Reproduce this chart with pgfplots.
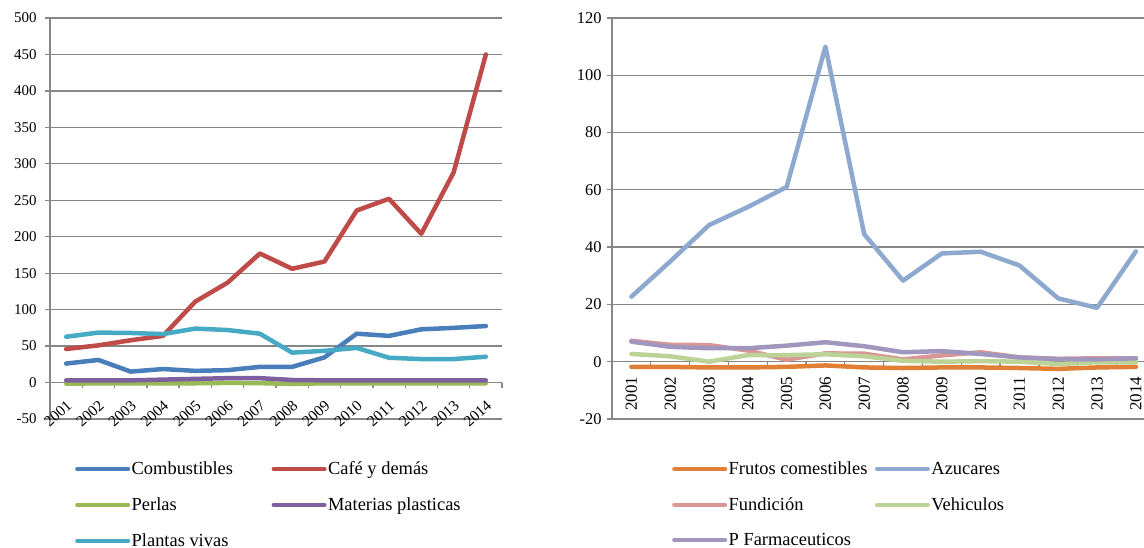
\documentclass[border=0pt]{standalone}
\usepackage{fontspec}
\setmainfont{Liberation Serif}
\usepackage{pgfplots}
\pgfplotsset{compat=1.18}
\definecolor{gridgray}{HTML}{878787}
\definecolor{cComb}{HTML}{4A7EBB}
\definecolor{cCafe}{HTML}{BE4B48}
\definecolor{cPerl}{HTML}{98B954}
\definecolor{cMat}{HTML}{7D60A0}
\definecolor{cPlan}{HTML}{46AAC5}
\definecolor{cFrut}{HTML}{E07F35}
\definecolor{cAzu}{HTML}{8EA9D0}
\definecolor{cFun}{HTML}{D99694}
\definecolor{cVeh}{HTML}{BCD397}
\definecolor{cFar}{HTML}{A196BE}
\pgfplotsset{
  common/.style={
    scale only axis,
    anchor=south west,
    axis x line*=middle,
    axis y line*=left,
    axis line style={draw=gridgray, line width=1.3bp},
    ymajorgrids,
    grid style={draw=gridgray, line width=1.3bp},
    tick align=outside,
    major tick length=5bp,
    ytick style={draw=gridgray, line width=1.3bp},
    xtick style={draw=none},
    tick label style={text=black},
    xtick={2001,...,2014},
    xticklabels={2001,2002,2003,2004,2005,2006,2007,2008,2009,2010,2011,2012,2013,2014},
    extra x ticks={2000.5,2001.5,2002.5,2003.5,2004.5,2005.5,2006.5,2007.5,2008.5,2009.5,2010.5,2011.5,2012.5,2013.5,2014.5},
    extra x tick labels={},
    extra x tick style={xtick style={draw=gridgray, line width=1.3bp}},
    every axis plot/.append style={line width=4.5bp, line join=round, line cap=round},
    legend columns=2,
    legend image code/.code={\draw[##1, line width=4bp, line cap=round] (2bp,0bp) -- (53bp,0bp);},
    legend cell align=left,
  },
}
\begin{document}
\begin{tikzpicture}[x=1bp,y=1bp]
\path[use as bounding box] (0,0) rectangle (1144,548);
\begin{axis}[common,
  at={(50bp,129bp)}, width=452bp, height=401bp,
  xmin=2000.5, xmax=2014.5, ymin=-50, ymax=500,
  ytick={-50,0,50,100,150,200,250,300,350,400,450,500},
  yticklabels={-50,0,50,100,150,200,250,300,350,400,450,500},
  y tick label style={font=\fontsize{15}{18}\selectfont, xshift=-5bp},
  x tick label style={font=\fontsize{15.5}{18}\selectfont, xshift=4bp, yshift=-15bp, rotate=42, anchor=east, inner sep=1bp},
  legend style={at={(0.0553,-0.1065)}, anchor=north west, draw=none, fill=none,
    inner sep=0pt, font=\fontsize{18.5}{22}\selectfont, row sep=21.5bp,
    nodes={inner xsep=1.5bp, inner ysep=0pt},
    /tikz/every even column/.append style={column sep=37bp}},
]
\addplot[cComb] coordinates {(2001,26) (2002,31) (2003,15) (2004,18.5) (2005,16) (2006,17) (2007,21.5) (2008,21.5) (2009,34.5) (2010,67) (2011,64) (2012,73) (2013,75) (2014,77.5)};
\addlegendentry{Combustibles}
\addplot[cCafe] coordinates {(2001,46) (2002,51) (2003,58) (2004,64) (2005,111) (2006,137) (2007,177) (2008,156) (2009,166) (2010,236) (2011,252) (2012,204) (2013,288) (2014,450)};
\addlegendentry{Café y demás}
\addplot[cPerl] coordinates {(2001,-1.5) (2002,-1.2) (2003,-1) (2004,-1) (2005,-1) (2006,-0.5) (2007,-0.8) (2008,-2) (2009,-1) (2010,-1) (2011,-1) (2012,-1) (2013,-1) (2014,-1)};
\addlegendentry{Perlas}
\addplot[cMat] coordinates {(2001,3) (2002,3) (2003,3) (2004,4) (2005,5) (2006,6) (2007,6) (2008,3.5) (2009,3) (2010,3) (2011,3) (2012,3) (2013,3) (2014,3)};
\addlegendentry{Materias plasticas}
\addplot[cPlan] coordinates {(2001,62.8) (2002,68.5) (2003,68) (2004,66.5) (2005,74) (2006,72) (2007,67) (2008,41) (2009,43.5) (2010,47.5) (2011,34) (2012,32.2) (2013,32.2) (2014,35.4)};
\addlegendentry{Plantas vivas}
\end{axis}
\begin{axis}[common,
  at={(612bp,129bp)}, width=532bp, height=401bp,
  xmin=2000.5, xmax=2014.21, ymin=-20, ymax=120,
  ytick={-20,0,20,40,60,80,100,120},
  yticklabels={-20,0,20,40,60,80,100,120},
  y tick label style={font=\fontsize{16.5}{19}\selectfont, xshift=-2bp},
  x tick label style={font=\fontsize{17}{19}\selectfont, yshift=-8bp, rotate=90, anchor=east, inner sep=2bp},
  legend style={at={(0.1128,-0.1065)}, anchor=north west, draw=none, fill=none,
    inner sep=0pt, font=\fontsize{18.5}{22}\selectfont, row sep=21.5bp,
    nodes={inner xsep=1.5bp, inner ysep=0pt},
    /tikz/every even column/.append style={column sep=6bp}},
]
\addplot[cFrut] coordinates {(2001,-1.8) (2002,-1.8) (2003,-2) (2004,-2) (2005,-1.8) (2006,-1.3) (2007,-2) (2008,-2.2) (2009,-2) (2010,-2) (2011,-2.2) (2012,-2.5) (2013,-2) (2014,-1.8)};
\addlegendentry{Frutos comestibles}
\addplot[cAzu] coordinates {(2001,22.7) (2002,35) (2003,47.7) (2004,54) (2005,61) (2006,110) (2007,44.5) (2008,28.3) (2009,37.8) (2010,38.4) (2011,33.6) (2012,22.1) (2013,18.8) (2014,38.5)};
\addlegendentry{Azucares}
\addplot[cFun] coordinates {(2001,7.3) (2002,5.9) (2003,5.8) (2004,3.9) (2005,0.7) (2006,2.9) (2007,2.8) (2008,0.8) (2009,2.2) (2010,3.3) (2011,1.5) (2012,1.0) (2013,1.2) (2014,1.2)};
\addlegendentry{Fundición}
\addplot[cVeh] coordinates {(2001,2.7) (2002,1.9) (2003,0) (2004,2.3) (2005,2.3) (2006,2.6) (2007,1.9) (2008,0.3) (2009,0) (2010,0.2) (2011,0) (2012,-0.8) (2013,-0.2) (2014,-0.2)};
\addlegendentry{Vehiculos}
\addplot[cFar] coordinates {(2001,7) (2002,5.2) (2003,4.7) (2004,4.7) (2005,5.6) (2006,6.8) (2007,5.4) (2008,3.3) (2009,3.7) (2010,2.7) (2011,1.5) (2012,0.9) (2013,0.8) (2014,1.2)};
\addlegendentry{P Farmaceuticos}
\end{axis}
\end{tikzpicture}
\end{document}
